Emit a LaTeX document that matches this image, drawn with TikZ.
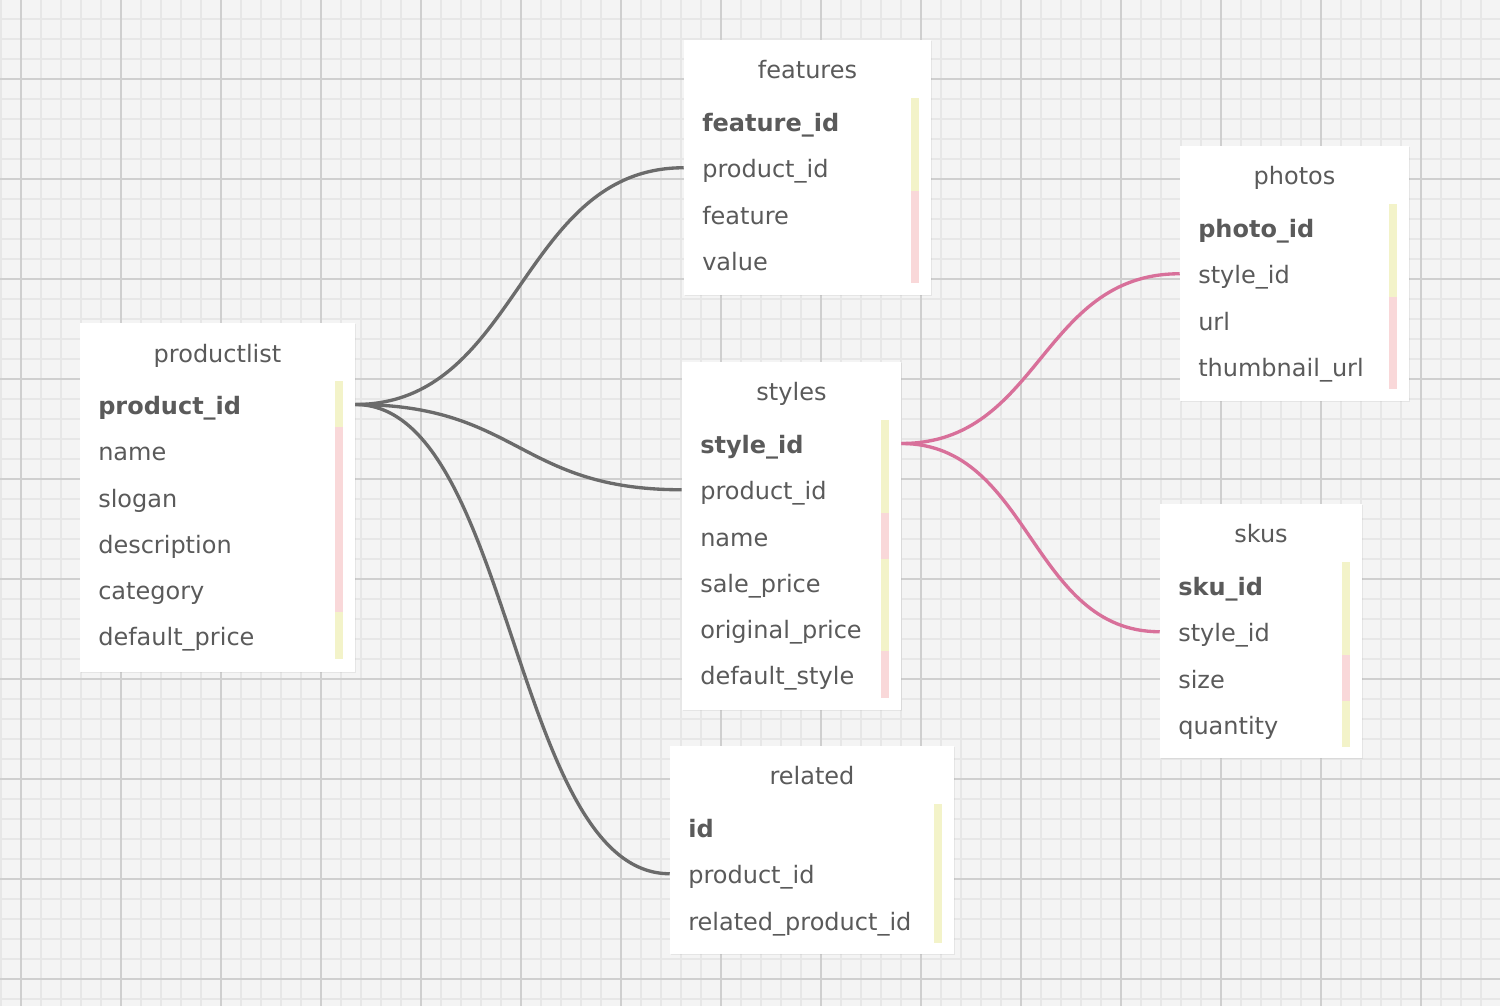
\documentclass[tikz,border=0pt]{standalone}
\usepackage{fontspec}
\setmainfont{DejaVu Sans}
\usetikzlibrary{fit,shadows}
\definecolor{paper}{HTML}{F4F4F4}
\definecolor{gridminor}{HTML}{E7E7E7}
\definecolor{gridmajor}{HTML}{CFCFCF}
\definecolor{txt}{HTML}{5A5A5A}
\definecolor{keyyellow}{HTML}{F3F3C9}
\definecolor{keypink}{HTML}{F9D8D9}
\definecolor{relgray}{HTML}{6B6B6B}
\definecolor{relpink}{HTML}{D8709A}

\begin{document}
\begin{tikzpicture}[x=0.75pt,y=0.75pt,yscale=-1,xscale=1,
    tbl/.style={fill=white, inner sep=0pt, drop shadow={shadow xshift=0.4pt, shadow yshift=-0.9pt, opacity=0.12}},
    ttl/.style={text=txt, font=\fontsize{18pt}{20pt}\selectfont, inner sep=0pt, text height=15.5pt, text depth=0.5pt},
    fld/.style={anchor=west, text=txt, font=\fontsize{18pt}{20pt}\selectfont, inner sep=0pt, text height=15.5pt, text depth=0.5pt},
    key/.style={fld, font=\fontsize{18pt}{20pt}\selectfont\bfseries},
    rel/.style={line width=2.5pt, draw=relgray},
    relp/.style={line width=2.5pt, draw=relpink}]
    \useasboundingbox (0,0) rectangle (1500,1006);
    
    %Shape: Grid
    \fill [paper] (0,0) rectangle (1500,1006);
    \foreach \x in {1,21,...,1500} \draw [gridminor, line width=1.1pt] (\x,0) -- (\x,1006);
    \foreach \y in {19,39,...,1006} \draw [gridminor, line width=1.1pt] (0,\y) -- (1500,\y);
    \foreach \x in {21,121,...,1500} \draw [gridmajor, line width=1.5pt] (\x,0) -- (\x,1006);
    \foreach \y in {79,179,...,1006} \draw [gridmajor, line width=1.5pt] (0,\y) -- (1500,\y);
    
    %Table: productlist
    \node [tbl, fit={(80,323) (355,672)}] (productlist) {};
    \foreach \c [count=\i from 0] in {keyyellow,keypink,keypink,keypink,keypink,keyyellow}
      \fill [\c] (335,{381+46.25*\i}) rectangle (343,{381+46.25*(\i+1)});
    \node [ttl] (productlist-title) at (217.5,352) {productlist};
    \node [key] (productlist-1) at (98,404.5) {product\_id};
    \foreach \f [count=\i from 2] in {name,slogan,description,category,default\_price}
      \node [fld] (productlist-\i) at (98,{404.5+46.25*(\i-1)}) {\f};
    
    %Table: features
    \node [tbl, fit={(684,40) (931,295)}] (features) {};
    \foreach \c [count=\i from 0] in {keyyellow,keyyellow,keypink,keypink}
      \fill [\c] (911,{98+46.25*\i}) rectangle (919,{98+46.25*(\i+1)});
    \node [ttl] (features-title) at (807.5,68.5) {features};
    \node [key] (features-1) at (702,121.5) {feature\_id};
    \foreach \f [count=\i from 2] in {product\_id,feature,value}
      \node [fld] (features-\i) at (702,{121.5+46.25*(\i-1)}) {\f};
    
    %Table: photos
    \node [tbl, fit={(1180,146) (1409,401)}] (photos) {};
    \foreach \c [count=\i from 0] in {keyyellow,keyyellow,keypink,keypink}
      \fill [\c] (1389,{204+46.25*\i}) rectangle (1397,{204+46.25*(\i+1)});
    \node [ttl] (photos-title) at (1294.5,174.5) {photos};
    \node [key] (photos-1) at (1198,227.5) {photo\_id};
    \foreach \f [count=\i from 2] in {style\_id,url,thumbnail\_url}
      \node [fld] (photos-\i) at (1198,{227.5+46.25*(\i-1)}) {\f};
    
    %Table: styles
    \node [tbl, fit={(682,362) (901,710)}] (styles) {};
    \foreach \c [count=\i from 0] in {keyyellow,keyyellow,keypink,keyyellow,keyyellow,keypink}
      \fill [\c] (881,{420+46.25*\i}) rectangle (889,{420+46.25*(\i+1)});
    \node [ttl] (styles-title) at (791.5,390.5) {styles};
    \node [key] (styles-1) at (700,443.5) {style\_id};
    \foreach \f [count=\i from 2] in {product\_id,name,sale\_price,original\_price,default\_style}
      \node [fld] (styles-\i) at (700,{443.5+46.25*(\i-1)}) {\f};
    
    %Table: skus
    \node [tbl, fit={(1160,504) (1362,758)}] (skus) {};
    \foreach \c [count=\i from 0] in {keyyellow,keyyellow,keypink,keyyellow}
      \fill [\c] (1342,{562+46.25*\i}) rectangle (1350,{562+46.25*(\i+1)});
    \node [ttl] (skus-title) at (1261,532.5) {skus};
    \node [key] (skus-1) at (1178,585.5) {sku\_id};
    \foreach \f [count=\i from 2] in {style\_id,size,quantity}
      \node [fld] (skus-\i) at (1178,{585.5+46.25*(\i-1)}) {\f};
    
    %Table: related
    \node [tbl, fit={(670,746) (954,954)}] (related) {};
    \foreach \c [count=\i from 0] in {keyyellow,keyyellow,keyyellow}
      \fill [\c] (934,{804+46.25*\i}) rectangle (942,{804+46.25*(\i+1)});
    \node [ttl] (related-title) at (812,774.5) {related};
    \node [key] (related-1) at (688,827.5) {id};
    \foreach \f [count=\i from 2] in {product\_id,related\_product\_id}
      \node [fld] (related-\i) at (688,{827.5+46.25*(\i-1)}) {\f};
    
    %Curve Lines
    \draw [rel] (productlist.east |- productlist-1) .. controls +(164.5,0) and +(-164.5,0) .. (features.west |- features-2);
    \draw [rel] (productlist.east |- productlist-1) .. controls +(163.5,0) and +(-163.5,0) .. (styles.west |- styles-2);
    \draw [rel] (productlist.east |- productlist-1) .. controls +(157.5,0) and +(-157.5,0) .. (related.west |- related-2);
    \draw [relp] (styles.east |- styles-1) .. controls +(139.5,0) and +(-139.5,0) .. (photos.west |- photos-2);
    \draw [relp] (styles.east |- styles-1) .. controls +(129.5,0) and +(-129.5,0) .. (skus.west |- skus-2);
    
\end{tikzpicture}
\end{document}
